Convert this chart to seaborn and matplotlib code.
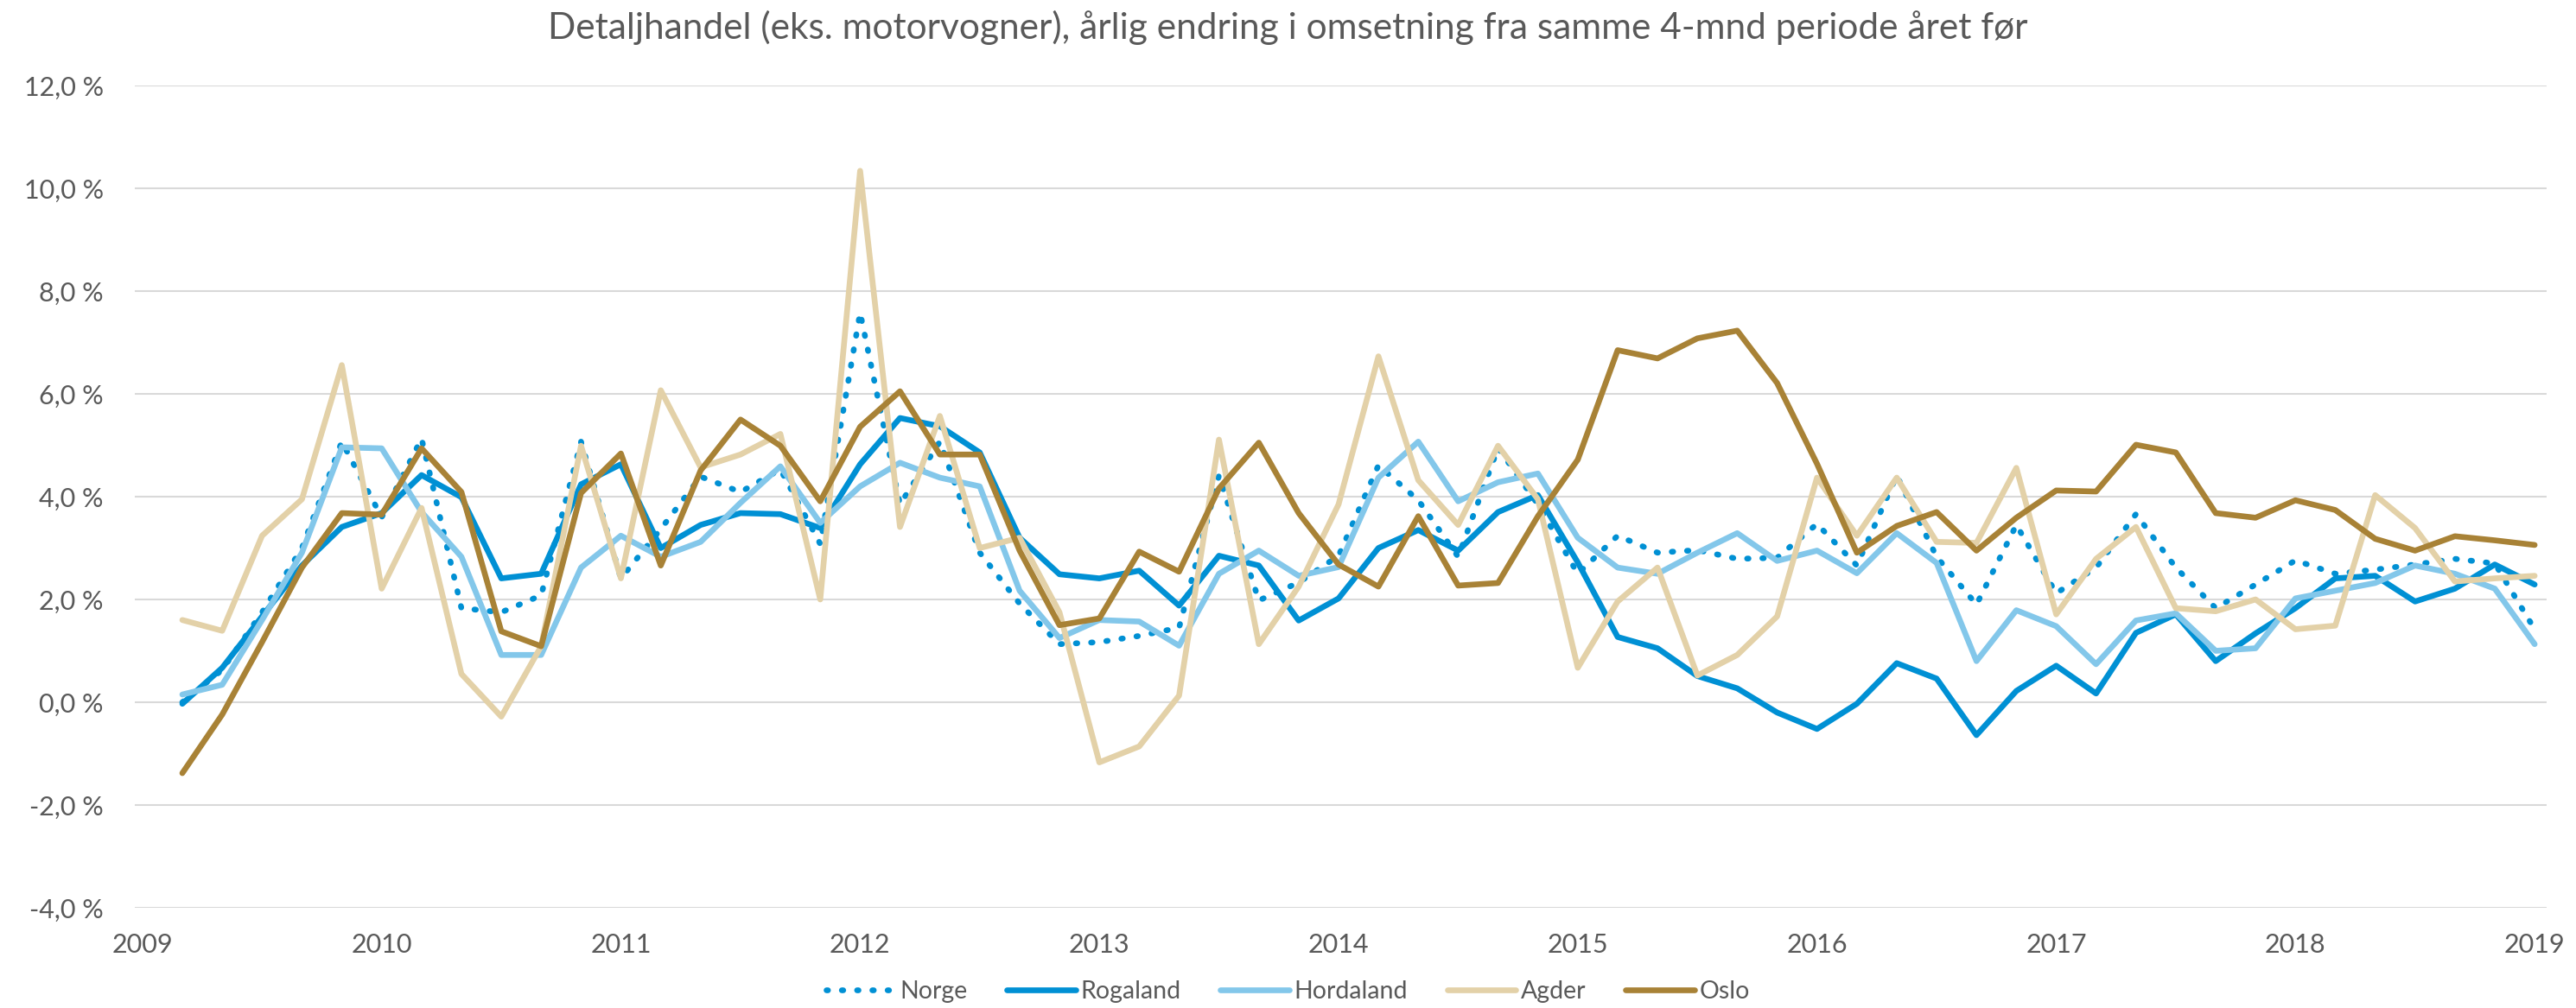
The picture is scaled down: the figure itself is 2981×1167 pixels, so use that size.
import numpy as np
import pandas as pd
import matplotlib
matplotlib.use("Agg")
import matplotlib.pyplot as plt
from matplotlib.ticker import FixedLocator, FuncFormatter
from matplotlib.lines import Line2D
import seaborn as sns

TITLE = "Detaljhandel (eks. motorvogner), årlig endring i omsetning fra samme 4-mnd periode året før"
YEAR_TICKS = list(range(2009, 2020))
Y_TICKS = [-4, -2, 0, 2, 4, 6, 8, 10, 12]

# Two-month steps, from March 2009 through January 2019, as fractional years
N_PERIODS = 60
periods = [2009 + (k + 1) / 6 for k in range(N_PERIODS)]

norge = [0.00, 0.63, 1.75, 3.00, 5.07, 3.60, 5.13, 1.83, 1.75, 2.08,
         5.07, 2.41, 3.37, 4.39, 4.09, 4.53, 3.08, 7.58, 3.85, 5.07,
         2.91, 1.92, 1.13, 1.17, 1.29, 1.45, 4.41, 1.98, 2.33, 2.85,
         4.61, 3.93, 2.83, 4.95, 3.85, 2.50, 3.24, 2.91, 2.96, 2.79,
         2.81, 3.47, 2.66, 4.41, 2.83, 1.90, 3.45, 2.12, 2.62, 3.66,
         2.62, 1.83, 2.29, 2.76, 2.50, 2.58, 2.68, 2.79, 2.70, 1.42]

rogaland = [-0.03, 0.67, 1.67, 2.66, 3.41, 3.68, 4.42, 3.99, 2.41, 2.50,
            4.24, 4.63, 3.00, 3.45, 3.68, 3.66, 3.39, 4.63, 5.53, 5.37,
            4.86, 3.20, 2.49, 2.41, 2.56, 1.88, 2.85, 2.66, 1.59, 2.02,
            3.00, 3.35, 2.95, 3.70, 4.03, 2.72, 1.27, 1.05, 0.51, 0.27,
            -0.20, -0.52, -0.03, 0.76, 0.46, -0.64, 0.22, 0.71, 0.17, 1.35,
            1.71, 0.80, 1.34, 1.83, 2.41, 2.46, 1.96, 2.21, 2.68, 2.29]

hordaland = [0.15, 0.34, 1.60, 2.91, 4.96, 4.94, 3.70, 2.83, 0.92, 0.92,
             2.62, 3.24, 2.83, 3.12, 3.88, 4.59, 3.49, 4.20, 4.66, 4.37,
             4.20, 2.17, 1.25, 1.60, 1.57, 1.10, 2.50, 2.95, 2.46, 2.63,
             4.37, 5.07, 3.91, 4.28, 4.45, 3.20, 2.62, 2.50, 2.91, 3.29,
             2.75, 2.95, 2.51, 3.29, 2.71, 0.80, 1.79, 1.48, 0.74, 1.59,
             1.73, 1.00, 1.05, 2.02, 2.17, 2.32, 2.66, 2.50, 2.21, 1.13]

agder = [1.60, 1.39, 3.24, 3.95, 6.56, 2.21, 3.78, 0.55, -0.28, 1.09,
         4.99, 2.41, 6.07, 4.57, 4.82, 5.22, 2.00, 10.34, 3.41, 5.57,
         3.00, 3.20, 1.75, -1.17, -0.86, 0.13, 5.11, 1.13, 2.25, 3.85,
         6.73, 4.32, 3.45, 4.99, 3.95, 0.67, 1.96, 2.62, 0.52, 0.92,
         1.67, 4.37, 3.24, 4.37, 3.12, 3.10, 4.56, 1.71, 2.79, 3.41,
         1.83, 1.77, 2.00, 1.42, 1.49, 4.03, 3.39, 2.35, 2.41, 2.46]

oslo = [-1.38, -0.24, 1.17, 2.62, 3.68, 3.65, 4.94, 4.09, 1.38, 1.09,
        4.07, 4.84, 2.66, 4.51, 5.50, 4.99, 3.91, 5.36, 6.05, 4.82,
        4.82, 2.95, 1.50, 1.63, 2.93, 2.54, 4.16, 5.05, 3.68, 2.68,
        2.25, 3.62, 2.27, 2.32, 3.62, 4.72, 6.85, 6.69, 7.08, 7.23,
        6.21, 4.64, 2.91, 3.43, 3.70, 2.95, 3.59, 4.12, 4.10, 5.01,
        4.86, 3.68, 3.59, 3.93, 3.74, 3.18, 2.95, 3.23, 3.15, 3.06]

series_names = ["Norge", "Rogaland", "Hordaland", "Agder", "Oslo"]
series_values = [norge, rogaland, hordaland, agder, oslo]

colors = {
    "Norge": "#0090D4",
    "Rogaland": "#0090D4",
    "Hordaland": "#83C7EA",
    "Agder": "#E3D1A8",
    "Oslo": "#A88236",
}
LW = 4.8
styles = {
    "Norge": dict(linestyle=(0, (0.25, 2.4)), dash_capstyle="round"),
    "Rogaland": dict(linestyle="-", solid_capstyle="round"),
    "Hordaland": dict(linestyle="-", solid_capstyle="round"),
    "Agder": dict(linestyle="-", solid_capstyle="round"),
    "Oslo": dict(linestyle="-", solid_capstyle="round"),
}

df = pd.DataFrame({"periode": periods})
for name, vals in zip(series_names, series_values):
    df[name] = vals
long_df = df.melt(id_vars="periode", var_name="region", value_name="endring")

sns.set_theme(style="white")
plt.rcParams["font.family"] = ["Lato", "DejaVu Sans"]
TEXT = "#595959"
GRID = "#D9D9D9"

fig = plt.figure(figsize=(29.81, 11.67), dpi=100)
ax = fig.add_axes([156 / 2981, 1 - 1051 / 1167, (2947 - 156) / 2981, (1051 - 99) / 1167])

for name in series_names:
    sub = long_df[long_df["region"] == name]
    sns.lineplot(data=sub, x="periode", y="endring", ax=ax, color=colors[name],
                 linewidth=LW, label=name, legend=False,
                 solid_joinstyle="round", zorder=3, **styles[name])

ax.set_xlim(2008.968, 2019.05)
ax.set_ylim(-4, 12)
ax.yaxis.set_major_locator(FixedLocator(Y_TICKS))
ax.yaxis.set_major_formatter(FuncFormatter(lambda v, p: f"{v:.1f}".replace(".", ",") + " %"))
ax.xaxis.set_major_locator(FixedLocator(YEAR_TICKS))
ax.xaxis.set_major_formatter(FuncFormatter(lambda v, p: f"{int(round(v))}"))
ax.grid(axis="y", color=GRID, linewidth=1.5, zorder=0)
ax.grid(axis="x", visible=False)
for s in ax.spines.values():
    s.set_visible(False)
ax.tick_params(axis="y", length=0, pad=26, labelsize=22, labelcolor=TEXT)
ax.tick_params(axis="x", length=0, pad=21, labelsize=22, labelcolor=TEXT)
ax.set_xlabel("")
ax.set_ylabel("")

fig.text(0.5, 1 - 32 / 1167, TITLE, ha="center", va="center", fontsize=30.5, color=TEXT)

handles = [Line2D([0], [0], color=colors[n], linewidth=LW, **styles[n]) for n in series_names]
fig.legend(handles, series_names, loc="center", bbox_to_anchor=(0.5, 1 - 1148 / 1167),
           ncol=5, frameon=False, fontsize=20.5, labelcolor=TEXT,
           handlelength=2.8, handletextpad=0.2, columnspacing=1.6)

fig.savefig("out.png", dpi=100, facecolor="white")
